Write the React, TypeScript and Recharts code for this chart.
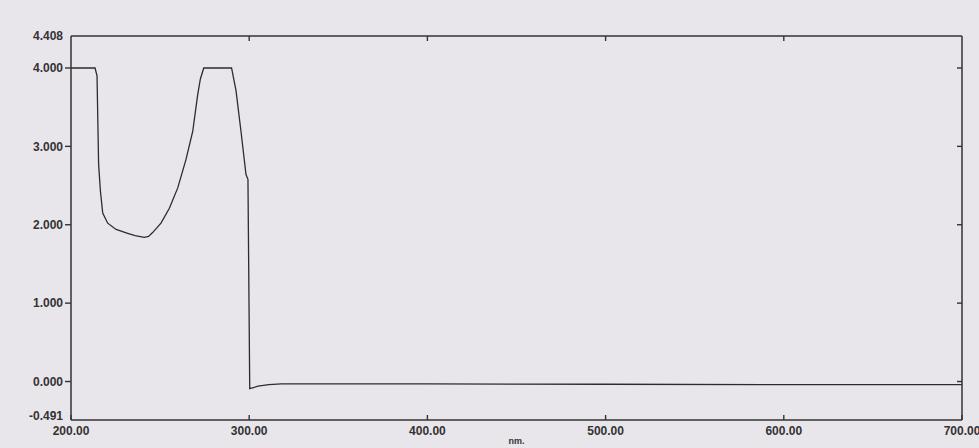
import React from 'react';
import { LineChart, Line, XAxis, YAxis } from 'recharts';

const wavelengths = [
  200, 205, 210, 213.5, 214.6, 215.5, 216.5, 217.8, 220.6, 225.3, 231.8, 236, 241.1, 243.5,
  245.8, 250.5, 255.2, 259.9, 264.5, 268.3, 271.1, 272.6, 274.5, 280, 285, 290.1, 292.6,
  295.4, 298.2, 299.3, 300.3, 305, 311, 318, 350, 400, 500, 600, 700,
];
const absorbance = [
  4.0, 4.0, 4.0, 4.0, 3.9, 2.77, 2.43, 2.15, 2.02, 1.94, 1.89, 1.86, 1.84, 1.85,
  1.9, 2.02, 2.21, 2.47, 2.83, 3.19, 3.66, 3.86, 4.0, 4.0, 4.0, 4.0, 3.71,
  3.19, 2.64, 2.58, -0.09, -0.06, -0.04, -0.03, -0.03, -0.03, -0.035, -0.04, -0.04,
];
const xTicks = [200, 300, 400, 500, 600, 700];
const xInnerTicks = [300, 400, 500, 600];
const yTicks = [-0.491, 0, 1, 2, 3, 4, 4.408];
const yInnerTicks = [0, 1, 2, 3, 4];
const yMin = -0.491;
const yMax = 4.408;
const xLabel = 'nm.';

const data = wavelengths.map((w, i) => ({ w, a: absorbance[i] }));

const INK = '#333333';
const FONT = '"Liberation Sans", Arial, sans-serif';

const LeftTick = (props: any) => {
  const { x, y, payload } = props;
  const v = payload.value as number;
  const interior = v !== yMin && v !== yMax;
  const shift = v === yMin ? -4 : 0;
  return (
    <g>
      <text
        x={x}
        y={y + shift}
        dy="0.355em"
        textAnchor="end"
        fontFamily={FONT}
        fontWeight="bold"
        fontSize={12}
        fill={INK}
      >
        {v.toFixed(3)}
      </text>
      {interior && <line x1={x + 2} x2={x + 8} y1={y} y2={y} stroke={INK} strokeWidth={1.4} />}
    </g>
  );
};

const Empty = () => <g />;

export default function App() {
  return (
    <div
      style={{
        position: 'absolute',
        left: 0,
        top: 0,
        width: 979,
        height: 448,
        background: '#e8e6eb',
      }}
    >
      <LineChart
        width={979}
        height={448}
        data={data}
        margin={{ top: 35, right: 16, bottom: 3, left: 0 }}
      >
        <XAxis
          xAxisId="b"
          dataKey="w"
          type="number"
          domain={[200, 700]}
          ticks={xTicks}
          interval={0}
          height={25}
          axisLine={{ stroke: INK, strokeWidth: 1.5 }}
          tickLine={{ stroke: INK, strokeWidth: 1.4 }}
          tickSize={-5}
          tickMargin={11}
          tickFormatter={(v: number) => v.toFixed(2)}
          tick={{ fontFamily: FONT, fontWeight: 'bold', fontSize: 12, fill: INK }}
          label={{
            value: xLabel,
            position: 'insideBottom',
            offset: 1,
            style: { fontFamily: FONT, fontWeight: 'bold', fontSize: 9, fill: INK },
          }}
        />
        <XAxis
          xAxisId="t"
          orientation="top"
          dataKey="w"
          type="number"
          domain={[200, 700]}
          ticks={xInnerTicks}
          interval={0}
          height={1}
          axisLine={{ stroke: INK, strokeWidth: 1.5 }}
          tickLine={{ stroke: INK, strokeWidth: 1.4 }}
          tickSize={-5}
          tick={Empty}
        />
        <YAxis
          yAxisId="l"
          type="number"
          domain={[yMin, yMax]}
          ticks={yTicks}
          interval={0}
          width={71}
          axisLine={{ stroke: INK, strokeWidth: 1.5 }}
          tickLine={false}
          tickSize={6}
          tickMargin={2}
          tick={LeftTick}
          allowDataOverflow
        />
        <YAxis
          yAxisId="r"
          orientation="right"
          type="number"
          domain={[yMin, yMax]}
          ticks={yInnerTicks}
          interval={0}
          width={1}
          axisLine={{ stroke: INK, strokeWidth: 1.5 }}
          tickLine={{ stroke: INK, strokeWidth: 1.4 }}
          tickSize={-5}
          tick={Empty}
          allowDataOverflow
        />
        <Line
          xAxisId="b"
          yAxisId="l"
          type="linear"
          dataKey="a"
          stroke="#2c2c2c"
          strokeWidth={1.3}
          dot={false}
          isAnimationActive={false}
        />
      </LineChart>
    </div>
  );
}
